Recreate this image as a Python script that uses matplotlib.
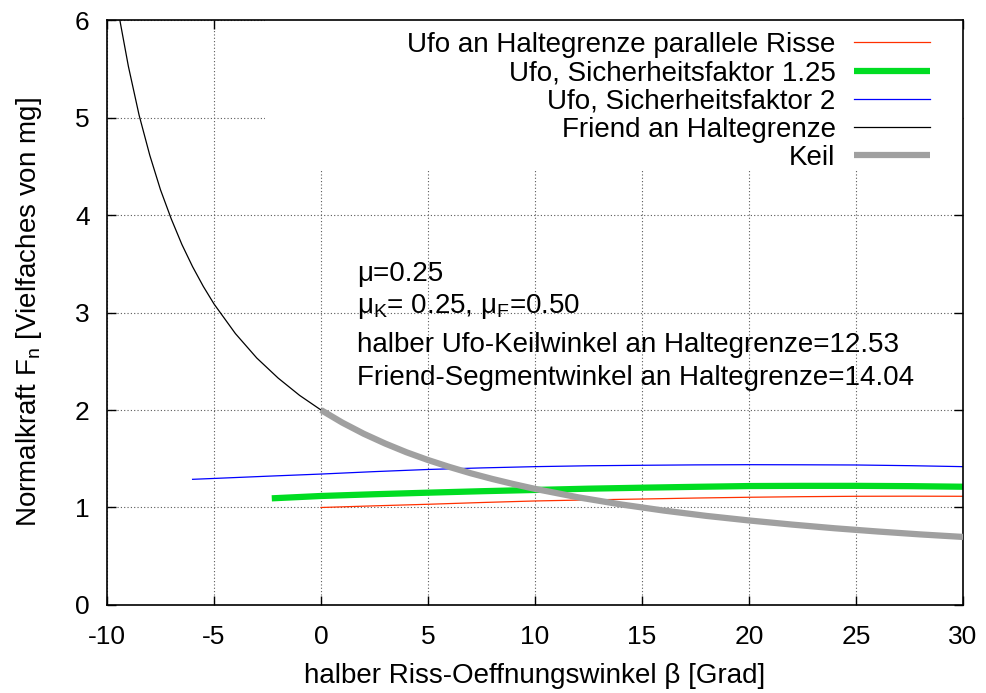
import numpy as np
import matplotlib.pyplot as plt
from matplotlib.patches import Rectangle

plt.rcParams['font.family'] = ['Liberation Sans', 'DejaVu Sans']
plt.rcParams['mathtext.fontset'] = 'custom'
plt.rcParams['mathtext.rm'] = 'Liberation Sans'
plt.rcParams['mathtext.it'] = 'Liberation Sans:italic'
plt.rcParams['axes.unicode_minus'] = False

# values
ufo_x = [0, 2.5, 5, 7.5, 10, 12.5, 15, 17.5, 20, 22.5, 25, 27.5, 30]
ufo_y = [1.0, 1.017, 1.033, 1.051, 1.067, 1.078, 1.087, 1.097, 1.105, 1.111, 1.115, 1.116, 1.115]

sf125_x = [-2.3, 0, 2.5, 5, 7.5, 10, 12.5, 15, 17.5, 20, 22.5, 25, 27.5, 30]
sf125_y = [1.094, 1.118, 1.136, 1.152, 1.167, 1.18, 1.193, 1.203, 1.212, 1.22, 1.222, 1.222, 1.219, 1.213]

sf2_x = [-6, -5, -2.5, 0, 2.5, 5, 7.5, 10, 12.5, 15, 17.5, 20, 22.5, 25, 27.5, 30]
sf2_y = [1.289, 1.298, 1.321, 1.343, 1.368, 1.39, 1.406, 1.419, 1.428, 1.433, 1.437, 1.439, 1.438, 1.436, 1.429, 1.419]

friend_x = [-9.4, -9, -8.5, -8, -7.5, -7, -6.5, -6, -5.5, -5, -4, -3, -2, -1, 0]
friend_y = [6.0, 5.525, 5.025, 4.613, 4.259, 3.962, 3.698, 3.47, 3.268, 3.088, 2.784, 2.533, 2.327, 2.15, 2.0]

keil_x = [0, 1, 2, 3, 4, 5, 6, 7, 8, 9, 10, 12, 14, 16, 18, 20, 22, 24, 26, 28, 30]
keil_y = [2.0, 1.87, 1.756, 1.656, 1.566, 1.487, 1.416, 1.351, 1.293, 1.24, 1.191, 1.105, 1.032,
          0.969, 0.914, 0.867, 0.825, 0.787, 0.754, 0.724, 0.698]

notes = ['μ=0.25',
         'μ$_\\mathregular{K}$= 0.25, μ$_\\mathregular{F}$=0.50',
         'halber Ufo-Keilwinkel an Haltegrenze=12.53',
         'Friend-Segmentwinkel an Haltegrenze=14.04']
note_y = [3.326, 3.0, 2.595, 2.256]

fig = plt.figure(figsize=(9.86, 6.93), dpi=100)
ax = fig.add_axes([0.1085, 0.127, 0.8682, 0.8441])

ax.plot(ufo_x, ufo_y, color='#ff3000', lw=0.9, label='Ufo an Haltegrenze parallele Risse', zorder=2)
ax.plot(sf125_x, sf125_y, color='#00dd22', lw=4.5, label='Ufo, Sicherheitsfaktor 1.25',
        solid_capstyle='butt', zorder=2)
ax.plot(sf2_x, sf2_y, color='#0000ff', lw=0.9, label='Ufo, Sicherheitsfaktor 2', zorder=2)
ax.plot(friend_x, friend_y, color='black', lw=0.9, label='Friend an Haltegrenze', zorder=2)
ax.plot(keil_x, keil_y, color='#a0a0a0', lw=4.5, label='Keil', solid_capstyle='butt', zorder=3)

ax.set_xlim(-10, 30)
ax.set_ylim(0, 6)
ax.set_xticks(np.arange(-10, 31, 5))
ax.set_yticks(np.arange(0, 7, 1))
ax.tick_params(direction='in', length=6.5, width=1, top=True, right=True, labelsize=19)
ax.tick_params(axis='x', pad=14.5)
ax.tick_params(axis='y', pad=12.5)
for s in ax.spines.values():
    s.set_linewidth(1.2)

ax.set_axisbelow(True)
ax.grid(True, color='0.35', linestyle=(0, (1, 2)), linewidth=0.8)

# key area hides the grid (like gnuplot)
ax.add_patch(Rectangle((0.1846, 0.7436), 0.8154, 0.2564, transform=ax.transAxes,
                       facecolor='white', edgecolor='none', zorder=1))

for t, y in zip(notes, note_y):
    ax.text(1.68, y, t, fontsize=20, va='baseline', ha='left', zorder=4)

ax.set_xlabel('halber Riss-Oeffnungswinkel β [Grad]', fontsize=20, labelpad=10)
ax.set_ylabel('Normalkraft F$_\\mathregular{n}$ [Vielfaches von mg]', fontsize=20, labelpad=22)

leg = ax.legend(loc='upper right', bbox_to_anchor=(0.9614, 0.9795), markerfirst=False,
                frameon=False, fontsize=20, handlelength=2.75, handletextpad=0.65,
                labelspacing=0.08, borderpad=0, borderaxespad=0)

fig.savefig('out.png', dpi=100)
